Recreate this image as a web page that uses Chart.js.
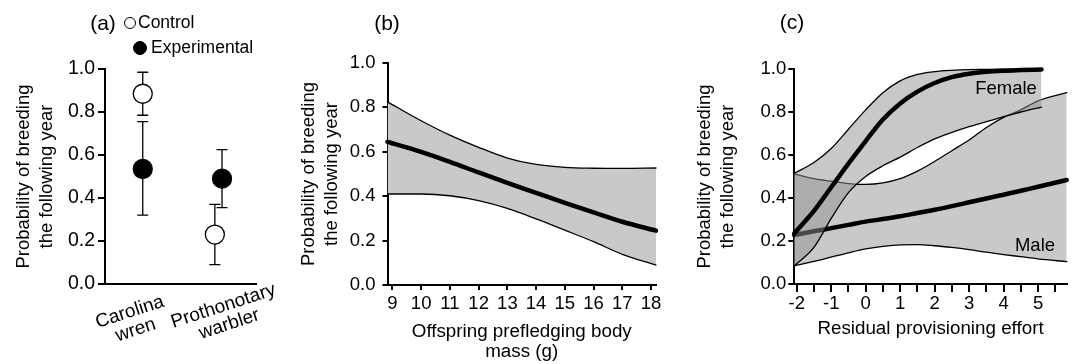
<!DOCTYPE html>
<html>
<head>
<meta charset="utf-8">
<script src="https://cdn.jsdelivr.net/npm/chart.js@4.4.1/dist/chart.umd.min.js"></script>
<style>
  body{margin:0;background:#fff;width:1072px;height:364px;position:relative;overflow:hidden;
       font-family:"Liberation Sans",Arial,sans-serif;color:#000}
  canvas{position:absolute;top:0}
  .lbl{position:absolute;font-size:18.5px;line-height:1;white-space:nowrap;transform:translate(-50%,-50%)}
  .pan{font-size:21px}
  .leg{position:absolute;font-size:17.5px;line-height:1;white-space:nowrap;transform:translateY(-50%)}
  .dot{position:absolute;border-radius:50%;border:1.2px solid #000;box-sizing:border-box;transform:translate(-50%,-50%)}
</style>
</head>
<body>
<canvas id="chartA" width="300" height="364" style="left:0"></canvas>
<canvas id="chartB" width="400" height="364" style="left:280px"></canvas>
<canvas id="chartC" width="392" height="364" style="left:680px"></canvas>

<div class="lbl pan" style="left:103px;top:22px">(a)</div>
<div class="dot" style="left:130px;top:23px;width:12px;height:12px;background:#fff"></div>
<div class="leg" style="left:138px;top:23px">Control</div>
<div class="dot" style="left:140px;top:48px;width:14px;height:14px;background:#000"></div>
<div class="leg" style="left:151px;top:48px">Experimental</div>
<div class="lbl pan" style="left:387px;top:22px">(b)</div>
<div class="lbl pan" style="left:792px;top:21px">(c)</div>
<div class="lbl" style="left:1006px;top:88px">Female</div>
<div class="lbl" style="left:1035px;top:245px">Male</div>

<script>
/* ── data ── */
// (a) survival by species and treatment
var groups       = [['Carolina', 'wren'], ['Prothonotary', 'warbler']];
var controlMean  = [0.885, 0.23];
var controlLo    = [0.785, 0.09];
var controlHi    = [0.985, 0.37];
var expMean      = [0.535, 0.49];
var expLo        = [0.32, 0.355];
var expHi        = [0.755, 0.625];

// (b) prefledging body mass
var bX    = [8.83, 10, 11, 12, 13, 14, 15, 16, 17, 18.17];
var bMean = [0.645, 0.6, 0.555, 0.507, 0.46, 0.415, 0.37, 0.327, 0.285, 0.245];
var bHi   = [0.825, 0.74, 0.675, 0.62, 0.572, 0.543, 0.53, 0.526, 0.525, 0.527];
var bLo   = [0.41, 0.41, 0.402, 0.38, 0.345, 0.298, 0.247, 0.195, 0.138, 0.09];
var bTicks = [9, 10, 11, 12, 13, 14, 15, 16, 17, 18];

// (c) residual provisioning effort, by sex
var cFemaleX    = [-2.07, -1.5, -1, -0.5, 0, 0.5, 1, 1.5, 2, 2.5, 3, 3.5, 4, 4.5, 5.1];
var cFemaleMean = [0.236, 0.34, 0.45, 0.56, 0.665, 0.765, 0.84, 0.895, 0.935, 0.962, 0.978, 0.987, 0.992, 0.995, 0.998];
var cFemaleHi   = [0.515, 0.565, 0.63, 0.72, 0.81, 0.89, 0.945, 0.975, 0.988, 0.994, 0.997, 0.998, 0.999, 1.0, 1.0];
var cFemaleLo   = [0.084, 0.17, 0.305, 0.425, 0.5, 0.55, 0.59, 0.635, 0.675, 0.705, 0.732, 0.755, 0.778, 0.8, 0.823];
var cMaleX      = [-2.07, -1.5, -1, -0.5, 0, 0.5, 1, 1.5, 2, 2.5, 3, 3.5, 4, 4.5, 5, 5.83];
var cMaleMean   = [0.228, 0.245, 0.26, 0.275, 0.29, 0.302, 0.315, 0.33, 0.345, 0.362, 0.38, 0.398, 0.415, 0.434, 0.452, 0.484];
var cMaleHi     = [0.512, 0.49, 0.478, 0.467, 0.463, 0.47, 0.49, 0.525, 0.57, 0.62, 0.67, 0.728, 0.775, 0.81, 0.852, 0.89];
var cMaleLo     = [0.084, 0.105, 0.125, 0.145, 0.163, 0.175, 0.182, 0.183, 0.178, 0.17, 0.16, 0.148, 0.137, 0.127, 0.117, 0.104];
var cTicks      = [-2, -1.5, -1, -0.5, 0, 0.5, 1, 1.5, 2, 2.5, 3, 3.5, 4, 4.5, 5, 5.5];

var yTicks = [0, 0.2, 0.4, 0.6, 0.8, 1.0];
var yTitle = ['Probability of breeding', 'the following year'];

/* ── shared bits ── */
var FONT = '"Liberation Sans", Arial, sans-serif';
var BAND = 'rgb(200,201,203)';
var BAND_OVER = 'rgba(145,146,150,0.5)';

function pts(xs, ys){ return xs.map(function(x, i){ return { x: x, y: ys[i] }; }); }

function yAxis(width, titlePad, tickLen, tickPad, tickSize){
  return {
    min: 0, max: 1,
    afterBuildTicks: function(ax){ ax.ticks = yTicks.map(function(v){ return { value: v }; }); },
    afterFit: function(ax){ ax.width = width; },
    border: { display: true, color: '#000', width: 2 },
    grid: { drawOnChartArea: false, drawTicks: true, tickLength: tickLen, color: '#000', lineWidth: 2 },
    ticks: { color: '#000', padding: tickPad, font: { family: FONT, size: tickSize },
             callback: function(v){ return v.toFixed(1); } },
    title: { display: true, text: yTitle, color: '#000', padding: { top: titlePad, bottom: 0 },
             font: { family: FONT, size: 18.5, lineHeight: 1.24 } }
  };
}

function baseOptions(pad, scales){
  return {
    responsive: false, animation: false, devicePixelRatio: 1,
    layout: { padding: pad, autoPadding: false },
    plugins: { legend: { display: false }, tooltip: { enabled: false } },
    elements: { point: { radius: 0 } },
    scales: scales
  };
}

function curve(data, width, extra){
  var ds = { data: data, borderColor: '#000', borderWidth: width, pointRadius: 0, fill: false,
             cubicInterpolationMode: 'monotone', clip: false, borderCapStyle: 'round' };
  for (var k in extra) ds[k] = extra[k];
  return ds;
}

/* ── (a) ── */
var dodge = [[0, -0.045], [0, 0.05]]; // control, experimental horizontal offsets

var errorBars = {
  id: 'errorBars',
  beforeDatasetsDraw: function(chart){
    var ctx = chart.ctx, xs = chart.scales.x, ys = chart.scales.y;
    var sets = [[controlLo, controlHi, dodge[0]], [expLo, expHi, dodge[1]]];
    ctx.save();
    ctx.strokeStyle = '#000';
    ctx.lineWidth = 1.3;
    sets.forEach(function(s){
      groups.forEach(function(g, i){
        var px = xs.getPixelForValue(i + s[2][i]);
        var y1 = ys.getPixelForValue(s[0][i]), y2 = ys.getPixelForValue(s[1][i]);
        ctx.beginPath();
        ctx.moveTo(px, y1); ctx.lineTo(px, y2);
        ctx.moveTo(px - 5.5, y1); ctx.lineTo(px + 5.5, y1);
        ctx.moveTo(px - 5.5, y2); ctx.lineTo(px + 5.5, y2);
        ctx.stroke();
      });
    });
    ctx.restore();
  }
};

var catLabels = {
  id: 'catLabels',
  afterDraw: function(chart){
    var ctx = chart.ctx, xs = chart.scales.x;
    ctx.save();
    ctx.font = '19px ' + FONT;
    ctx.fillStyle = '#000';
    ctx.textAlign = 'center';
    groups.forEach(function(lines, i){
      var px = xs.getPixelForValue(i);
      var w0 = ctx.measureText(lines[0]).width;
      ctx.save();
      ctx.translate(px - 45, 328);
      ctx.rotate(-18 * Math.PI / 180);
      lines.forEach(function(t, k){ ctx.fillText(t, w0 / 2, k * 19); });
      ctx.restore();
    });
    ctx.restore();
  }
};

new Chart(document.getElementById('chartA'), {
  type: 'scatter',
  data: {
    datasets: [
      { data: groups.map(function(g, i){ return { x: i + dodge[1][i], y: expMean[i] }; }),
        pointRadius: 9.5, backgroundColor: '#000', borderColor: '#000', borderWidth: 1.3 },
      { data: groups.map(function(g, i){ return { x: i + dodge[0][i], y: controlMean[i] }; }),
        pointRadius: 9.5, backgroundColor: '#fff', borderColor: '#000', borderWidth: 1.3 }
    ]
  },
  options: baseOptions({ top: 69, right: 44, bottom: 0, left: 0 }, {
    x: { type: 'linear', min: -0.5, max: 1.5,
         afterFit: function(ax){ ax.height = 80; },
         border: { display: true, color: '#000', width: 2 },
         grid: { display: false }, ticks: { display: false } },
    y: yAxis(105, 12.5, 7, 3, 19.5)
  }),
  plugins: [errorBars, catLabels]
});

/* ── (b) ── */
new Chart(document.getElementById('chartB'), {
  type: 'line',
  data: {
    datasets: [
      curve(pts(bX, bMean), 4.5, {}),
      curve(pts(bX, bHi), 1.3, {}),
      curve(pts(bX, bLo), 1.3, { fill: 1, backgroundColor: BAND })
    ]
  },
  options: baseOptions({ top: 63, right: 24, bottom: 0, left: 0 }, {
    x: { type: 'linear', min: 8.83, max: 18.17,
         afterBuildTicks: function(ax){ ax.ticks = bTicks.map(function(v){ return { value: v }; }); },
         afterFit: function(ax){ ax.height = 79; },
         border: { display: true, color: '#000', width: 2 },
         grid: { drawOnChartArea: false, drawTicks: true, tickLength: 5, color: '#000', lineWidth: 2 },
         ticks: { color: '#000', padding: 3, autoSkip: false, maxRotation: 0, font: { family: FONT, size: 18.5 } },
         title: { display: true, text: ['Offspring prefledging body', 'mass (g)'], color: '#000',
                  padding: { top: 0, bottom: 2 }, font: { family: FONT, size: 18.8, lineHeight: 1.07 } } },
    y: yAxis(107.5, 17.5, 5, 7, 18.5)
  })
});

/* ── (c) ── */
new Chart(document.getElementById('chartC'), {
  type: 'line',
  data: {
    datasets: [
      curve(pts(cFemaleX, cFemaleMean), 4.5, { order: 3 }),
      curve(pts(cFemaleX, cFemaleHi), 1.3, { order: 4 }),
      curve(pts(cFemaleX, cFemaleLo), 1.3, { order: 5, fill: 1, backgroundColor: BAND_OVER }),
      curve(pts(cMaleX, cMaleMean), 4.5, { order: 6 }),
      curve(pts(cMaleX, cMaleHi), 1.3, { order: 7 }),
      curve(pts(cMaleX, cMaleLo), 1.3, { order: 8, fill: 4, backgroundColor: BAND })
    ]
  },
  options: baseOptions({ top: 69, right: 5.3, bottom: 0, left: 0 }, {
    x: { type: 'linear', min: -2.07, max: 5.83,
         afterBuildTicks: function(ax){ ax.ticks = cTicks.map(function(v){ return { value: v }; }); },
         afterFit: function(ax){ ax.height = 80; },
         border: { display: true, color: '#000', width: 2 },
         grid: { drawOnChartArea: false, drawTicks: true, tickLength: 8, color: '#000', lineWidth: 2 },
         ticks: { color: '#000', padding: 1, autoSkip: false, maxRotation: 0, font: { family: FONT, size: 18.5 },
                  callback: function(v){ return Number.isInteger(v) ? String(v) : ''; } },
         title: { display: true, text: 'Residual provisioning effort', color: '#000',
                  padding: { top: 0, bottom: 25 }, font: { family: FONT, size: 18.8, lineHeight: 1.07 } } },
    y: yAxis(114.3, 13.5, 6, 2, 18.5)
  })
});
</script>
</body>
</html>
